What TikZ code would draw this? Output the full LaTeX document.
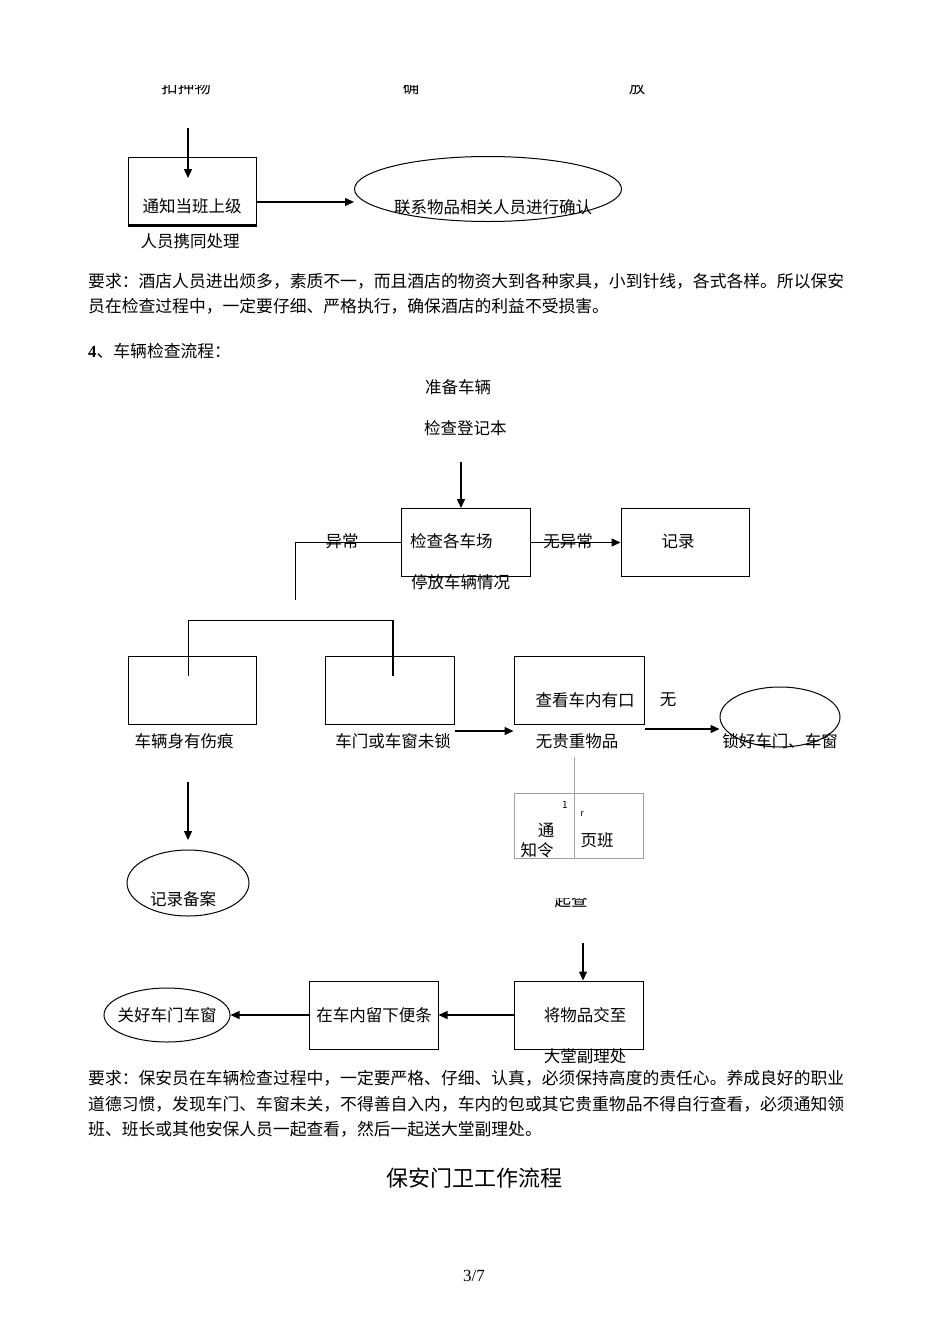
\documentclass[tikz,border=0pt]{standalone}
\usepackage{fontspec}
\setmainfont{Noto Sans CJK SC}
\newfontfamily\serifnum{Liberation Serif}
\usetikzlibrary{arrows.meta,shapes.geometric}
\XeTeXlinebreaklocale "zh"
\XeTeXlinebreakskip=0pt plus 2pt

\tikzset{
  box/.style={draw, line width=1pt, minimum width=129, minimum height=68, inner sep=0pt},
  oval/.style={draw, ellipse, line width=1pt, inner sep=0pt},
  txt/.style={inner sep=0pt, font=\fontsize{16.5}{18}\selectfont},
  para/.style={inner sep=0pt, anchor=west, font=\fontsize{16.8}{18}\selectfont},
  flow/.style={-{Triangle[length=9pt,width=8pt]}, line width=1.4pt},
  link/.style={line width=1pt},
  faint/.style={draw=gray!75, line width=0.8pt}
}

\begin{document}
\begin{tikzpicture}[x=1pt,y=-1pt]
	\useasboundingbox[fill=white] (0,0) rectangle (950,1344);

	% goods check, tail end
	\begin{scope}
		\clip (0,85) rectangle (950,100);
		\node[txt] (seize) at (186,87) {扣押物};
		\node[txt] (verify) at (411,87) {确};
		\node[txt] (release) at (637,87) {放};
	\end{scope}

	\coordinate (down1) at (188,128);
	\node[box, minimum width=128] (notice) at (192,191) {};
	\draw[line width=2.2pt] (notice.south west) -- (notice.south east);
	\node[txt] (noticetxt) at (192,206) {通知当班上级};
	\node[txt] (noticesub) at (190,241) {人员携同处理};
	\draw[flow] (down1) -- (188,178);

	\node[oval, minimum width=267, minimum height=65] (confirm) at (488,189) {};
	\node[txt] (confirmtxt) at (493,207) {联系物品相关人员进行确认};
	\draw[flow] (notice.east |- 0,202) -- (confirm.west |- 0,202);

	% requirement text
	\node[para] (req1a) at (88,281) {\makebox[764pt][s]{要求：酒店人员进出烦多，素质不一，而且酒店的物资大到各种家具，小到针线，各式各样。所以保安}};
	\node[para] (req1b) at (88,306) {员在检查过程中，一定要仔细、严格执行，确保酒店的利益不受损害。};
	\node[para] (sec4) at (88,351) {{\serifnum\bfseries 4}、车辆检查流程：};

	% vehicle check
	\node[txt] (prep) at (458,387) {准备车辆};
	\node[txt, anchor=west] (logbook) at (424,428) {检查登记本};
	\coordinate (down2) at (461,462);

	\node[box] (check) at (465.5,542.5) {};
	\node[txt, anchor=west] (checktxt) at (410,541) {检查各车场};
	\node[txt, anchor=west] (checksub) at (411,582) {停放车辆情况};
	\draw[flow] (down2) -- (down2 |- check.north);

	\node[box, minimum width=128] (record) at (685,542.5) {};
	\node[txt] (recordtxt) at (678,541) {记录};
	\draw[flow] (check.east) -- (record.west);
	\node[txt] (normal) at (568,541) {无异常};

	\coordinate (abn) at (295,600);
	\draw[link] (check.west) -- (abn |- check.west) -- (abn);
	\node[txt] (abnormal) at (342,541) {异常};

	\coordinate (br1) at (188,676);
	\coordinate (br2) at (393,676);
	\draw[link] (br1) -- (br1 |- 0,620) -- (br2 |- 0,620);
	\draw[line width=1.8pt] (br2 |- 0,620) -- (br2);

	\node[box, minimum width=128] (damage) at (192,690.5) {};
	\node[txt] (damagetxt) at (184,741) {车辆身有伤痕};
	\node[box] (unlock) at (389.5,690.5) {};
	\node[txt] (unlocktxt) at (393,741) {车门或车窗未锁};
	\node[box, minimum width=130] (inside) at (579,690.5) {};
	\node[txt] (insidetxt) at (585,700) {查看车内有口};
	\node[txt] (insidesub) at (577,741) {无贵重物品};
	\node[txt] (none) at (668,700) {无};
	\draw[flow] (unlock.east |- 0,731) -- (inside.west |- 0,731);

	\node[oval, minimum width=120, minimum height=60] (lockup) at (780,717) {};
	\node[txt] (lockuptxt) at (780,741) {锁好车门、车窗};
	\draw[flow] (inside.east |- 0,729) -- (lockup.west |- 0,729);

	\coordinate (down3) at (188,782);
	\node[oval, minimum width=122, minimum height=66] (archive) at (188,883) {};
	\node[txt] (archivetxt) at (183,899) {记录备案};
	\draw[flow] (down3) -- (188,840);

	% faint little box
	\node[draw=gray!75, line width=0.8pt, minimum width=129, minimum height=65, inner sep=0pt] (notify) at (578.5,825.5) {};
	\coordinate (gv) at (574,757);
	\draw[faint] (gv) -- (gv |- notify.south);
	\node[inner sep=0pt, font=\fontsize{10}{10}\selectfont] (one) at (565,805) {1};
	\node[inner sep=0pt, font=\fontsize{9}{9}\selectfont] (rr) at (582,814) {r};
	\node[txt] (tong) at (546,830) {通};
	\node[txt] (zhiling) at (537,850) {知令};
	\node[txt] (yeban) at (597,840) {页班};

	\begin{scope}
		\clip (0,898) rectangle (950,915);
		\node[txt] (together) at (571,900) {起查};
	\end{scope}

	\coordinate (down4) at (583,943);
	\node[box] (handover) at (578.5,1015) {};
	\node[txt] (handovertxt) at (585,1015) {将物品交至};
	\node[txt] (handoversub) at (585,1056) {大堂副理处};
	\draw[flow] (down4) -- (down4 |- handover.north);

	\node[box] (memo) at (373.5,1015.5) {};
	\node[txt] (memotxt) at (374,1015) {在车内留下便条};
	\draw[flow] (handover.west) -- (memo.east |- handover.west);

	\node[oval, minimum width=126, minimum height=54] (close) at (167,1015) {};
	\node[txt] (closetxt) at (167,1015) {关好车门车窗};
	\draw[flow] (memo.west |- close.east) -- (close.east);

	% requirement text
	\node[para] (req2a) at (88,1078) {\makebox[764pt][s]{要求：保安员在车辆检查过程中，一定要严格、仔细、认真，必须保持高度的责任心。养成良好的职业}};
	\node[para] (req2b) at (88,1104) {\makebox[764pt][s]{道德习惯，发现车门、车窗未关，不得善自入内，车内的包或其它贵重物品不得自行查看，必须通知领}};
	\node[para] (req2c) at (88,1129) {班、班长或其他安保人员一起查看，然后一起送大堂副理处。};

	\node[inner sep=0pt, font=\fontsize{22}{24}\selectfont] (title) at (474,1178) {保安门卫工作流程};
	\node[inner sep=0pt, font=\serifnum\fontsize{17}{18}\selectfont] (page) at (474,1276) {3/7};

\end{tikzpicture}
\end{document}
